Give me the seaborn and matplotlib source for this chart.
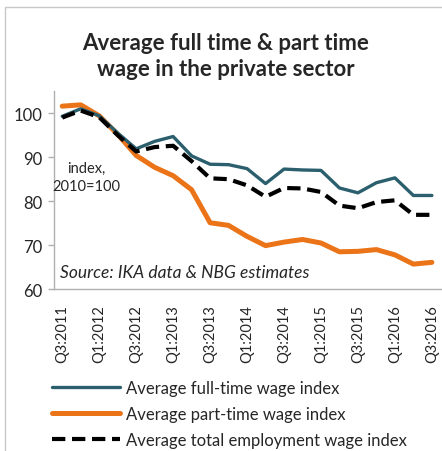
import matplotlib
matplotlib.use("Agg")
import matplotlib.pyplot as plt
from matplotlib.lines import Line2D
from matplotlib.patches import Rectangle
import seaborn as sns
import pandas as pd

quarters = [
    "Q3:2011", "Q4:2011", "Q1:2012", "Q2:2012", "Q3:2012", "Q4:2012",
    "Q1:2013", "Q2:2013", "Q3:2013", "Q4:2013", "Q1:2014", "Q2:2014",
    "Q3:2014", "Q4:2014", "Q1:2015", "Q2:2015", "Q3:2015", "Q4:2015",
    "Q1:2016", "Q2:2016", "Q3:2016",
]
full_time = [99.3, 101.0, 99.4, 95.5, 91.9, 93.6, 94.7, 90.3, 88.4, 88.3, 87.4,
             84.0, 87.3, 87.1, 87.0, 83.0, 81.9, 84.2, 85.3, 81.3, 81.3]
part_time = [101.6, 101.9, 99.4, 95.2, 90.4, 87.7, 85.8, 82.6, 75.1, 74.5, 72.0,
             69.9, 70.7, 71.3, 70.5, 68.5, 68.6, 69.0, 67.8, 65.7, 66.1]
total = [99.0, 100.6, 99.1, 95.0, 91.3, 92.3, 92.6, 89.1, 85.2, 85.0, 83.6,
         81.0, 83.0, 82.9, 82.1, 79.0, 78.4, 79.8, 80.2, 76.9, 76.9]
series_names = [
    "Average full-time wage index",
    "Average part-time wage index",
    "Average total employment wage index",
]
tick_labels = quarters[::2]
y_ticks = [60, 70, 80, 90, 100]

teal = "#2B5F6D"
orange = "#EB7419"
black = "#000000"

sns.set_theme(style="white")
plt.rcParams["font.family"] = ["Lato", "DejaVu Sans"]

df = pd.DataFrame({
    "pos": list(range(len(quarters))) * 3,
    "value": full_time + part_time + total,
    "series": sum([[n] * len(quarters) for n in series_names], []),
})

fig = plt.figure(figsize=(4.42, 4.52), dpi=100)
ax = fig.add_axes([0.122, 0.358, 0.876, 0.438])

styles = {
    series_names[0]: dict(color=teal, lw=2.4, ls="-"),
    series_names[1]: dict(color=orange, lw=3.6, ls="-"),
    series_names[2]: dict(color=black, lw=3.0, ls=(0, (3.2, 1.6))),
}
for name in [series_names[1], series_names[0], series_names[2]]:
    st = styles[name]
    sns.lineplot(data=df[df["series"] == name], x="pos", y="value", ax=ax,
                 color=st["color"], linewidth=st["lw"], linestyle=st["ls"],
                 legend=False, zorder=3 if name == series_names[2] else 2)

ax.set_xlim(-0.45, 20.5)
ax.set_ylim(60, 105)
ax.set_yticks(y_ticks)
ax.set_yticklabels([str(v) for v in y_ticks], fontsize=12)
ax.set_xticks(range(0, len(quarters), 2))
ax.set_xticklabels(tick_labels, rotation=90, fontsize=10.5)
ax.set_xlabel("")
ax.set_ylabel("")
for side in ["top", "right"]:
    ax.spines[side].set_visible(False)
for side in ["left", "bottom"]:
    ax.spines[side].set_color("#B0B0B0")
    ax.spines[side].set_linewidth(1.0)
ax.tick_params(axis="y", which="both", left=True, length=4, width=1,
               color="#B0B0B0", pad=4)
ax.tick_params(axis="x", bottom=False, pad=5)

ax.text(1.3, 85.5, "index,\n2010=100", ha="center", va="center",
        fontsize=10.5, linespacing=1.35)
ax.text(-0.1, 63.8, "Source: IKA data & NBG estimates", ha="left",
        va="center", fontsize=12.5, style="italic")

fig.text(0.51, 0.875, "Average full time & part time\nwage in the private sector",
         ha="center", va="center", fontsize=16, fontweight="bold",
         linespacing=1.25)

# outer chart frame
fig.patches.append(Rectangle((5 / 442, -0.1), 1.2, 1 - 8 / 452 + 0.1,
                             transform=fig.transFigure, fill=False,
                             edgecolor="#C8C8C8", linewidth=1.0))

handles = [Line2D([], [], color=styles[n]["color"], lw=styles[n]["lw"],
                  ls=styles[n]["ls"]) for n in series_names]
fig.legend(handles, series_names, loc="upper left",
           bbox_to_anchor=(0.117, 0.158), bbox_transform=fig.transFigure,
           frameon=False, fontsize=12, handlelength=4.1, handletextpad=0.35,
           labelspacing=0.6, borderaxespad=0, borderpad=0)

fig.savefig("out.png", dpi=100)
